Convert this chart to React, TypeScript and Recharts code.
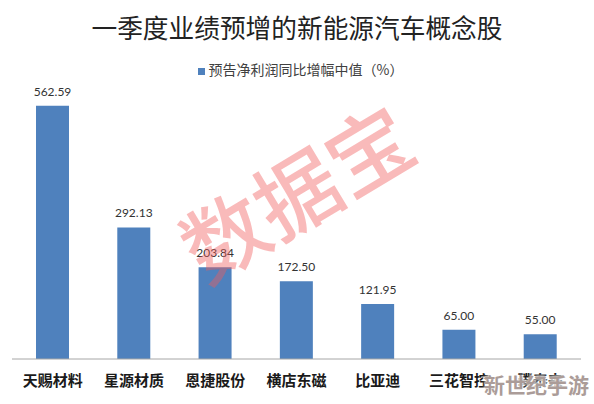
import { BarChart, Bar, XAxis, YAxis, LabelList, Legend } from 'recharts';

const stocks = ['天赐材料', '星源材质', '恩捷股份', '横店东磁', '比亚迪', '三花智控', '璞泰来'];
const growth = [562.59, 292.13, 203.84, 172.5, 121.95, 65, 55];
const seriesName = '预告净利润同比增幅中值（%）';

const rows = stocks.map((name, i) => ({ name, growth: growth[i] }));

const cjk = '"Noto Sans CJK SC", sans-serif';

export default function App() {
  return (
    <div style={{ position: 'absolute', left: 0, top: 0, width: 594, height: 404, background: '#fff', overflow: 'hidden' }}>
      <BarChart
        width={594}
        height={404}
        data={rows}
        margin={{ top: 0, right: 13, left: 12, bottom: 0 }}
        barSize={33}
      >
        <XAxis
          dataKey="name"
          height={45}
          interval={0}
          tickLine={false}
          axisLine={{ stroke: '#a6a6a6' }}
          tickMargin={10}
          tick={{ fontSize: 15, fontFamily: cjk, fontWeight: 700, fill: '#1a1a1a' }}
        />
        <YAxis hide domain={[0, 753]} />
        <Legend
          verticalAlign="top"
          align="center"
          iconType="square"
          iconSize={7}
          wrapperStyle={{ top: 59, marginLeft: 9, fontSize: 14, fontFamily: cjk }}
          formatter={(v) => <span style={{ color: '#404040' }}>{v}</span>}
        />
        <Bar dataKey="growth" name={seriesName} fill="#4f81bd" isAnimationActive={false}>
          <LabelList dataKey="growth" position="top" offset={10} fill="#333" fontSize={12} fontFamily="Lato, sans-serif" formatter={(v) => Number(v).toFixed(2)} />
        </Bar>
      </BarChart>
      <div style={{ position: 'absolute', left: 0, top: 7, width: 594, textAlign: 'center', fontFamily: cjk, fontSize: 25.7, lineHeight: '40px', color: '#222', fontWeight: 400 }}>
        一季度业绩预增的新能源汽车概念股
      </div>
      <div style={{ position: 'absolute', left: 165, top: 145, width: 260, textAlign: 'center', transform: 'rotate(-31deg)', fontFamily: cjk, fontSize: 84, lineHeight: '90px', fontWeight: 500, color: 'rgba(240,90,90,0.42)', whiteSpace: 'nowrap' }}>
        数据宝
      </div>
      <div style={{ position: 'absolute', left: 484, top: 370, fontFamily: cjk, fontSize: 21, lineHeight: '28px', fontWeight: 700, color: '#ab9c98', textShadow: '0 0 3px #fff, 0 0 3px #fff', whiteSpace: 'nowrap' }}>
        新世纪手游
      </div>
    </div>
  );
}
